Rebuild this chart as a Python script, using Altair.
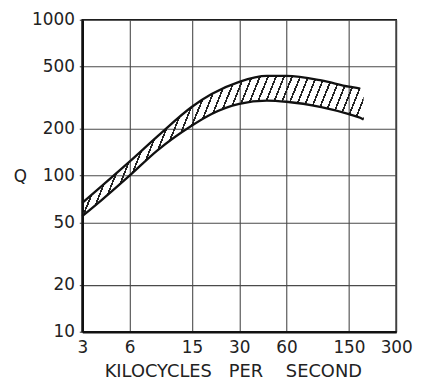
import math
import altair as alt
import pandas as pd

# Values (frequency in kc/s, Q)
freq_upper = [3, 4, 6, 9, 15, 20, 30, 45, 60, 100, 150, 177]
q_upper = [67, 86, 123, 178, 277, 334, 400, 436, 436, 408, 372, 362]
freq_lower = [3, 4, 6, 9, 15, 20, 30, 45, 60, 100, 150, 177, 186]
q_lower = [55, 70, 100, 145, 210, 249, 289, 303, 298, 275, 248, 235, 229]
q_hatch_end = 318  # top of the hatching beyond the end of the upper curve

x_ticks = [3, 6, 15, 30, 60, 150, 300]
y_ticks = [10, 20, 50, 100, 200, 500, 1000]

W_PLOT, H_PLOT = 317, 315
X_DOM, Y_DOM = [3, 300], [10, 1000]

upper_df = pd.DataFrame({"f": freq_upper, "q": q_upper})
lower_df = pd.DataFrame({"f": freq_lower, "q": q_lower})
band_df = pd.DataFrame({"f": freq_lower, "lo": q_lower, "hi": q_upper + [q_hatch_end]})

# --- hatch pattern built as a striped linear gradient over the band's bounding box
def px(v):
    return W_PLOT * math.log10(v / X_DOM[0]) / math.log10(X_DOM[1] / X_DOM[0])

def py(v):
    return H_PLOT * math.log10(Y_DOM[1] / v) / math.log10(Y_DOM[1] / Y_DOM[0])

bw = px(max(band_df.f)) - px(min(band_df.f))
bh = py(min(band_df.lo)) - py(max(band_df.hi))
theta = math.radians(68)
p, q = math.sin(theta) / bh, math.cos(theta) / bw
k = (p + q) / (p * p + q * q)
gx, gy = k * p, k * q
span = bw * math.sin(theta) + bh * math.cos(theta)
spacing = 7.5
n = max(1, int(round(span / spacing)))
frac = 1.7 / spacing
ink, clear = "#222222", "rgba(255,255,255,0)"
stops = []
for i in range(n):
    a = i / n
    b = (i + frac) / n
    c = (i + 1) / n
    stops += [
        alt.GradientStop(color=ink, offset=round(a, 6)),
        alt.GradientStop(color=ink, offset=round(b, 6)),
        alt.GradientStop(color=clear, offset=round(b, 6)),
        alt.GradientStop(color=clear, offset=round(c, 6)),
    ]
hatch = alt.LinearGradient(gradient="linear", stops=stops, x1=0, y1=0, x2=gx, y2=gy)

FONT = "DejaVu Sans"

x_axis = alt.Axis(
    values=x_ticks, format="d", labelOverlap=False, labelFlush=False, labelFont=FONT,
    labelFontSize=17, labelColor="#222", labelPadding=8, ticks=False, domainColor="#111",
    domainWidth=2.5, grid=True, gridColor="#4a4a4a", gridWidth=1.1, gridOpacity=1,
    title="KILOCYCLES\u00a0\u00a0\u00a0PER\u00a0\u00a0\u00a0\u00a0SECOND",
    titleFont=FONT, titleFontSize=18, titleFontWeight="normal", titleColor="#222",
    titleX=152, titleY=40, titleAlign="center", titleBaseline="middle",
)
y_axis = alt.Axis(
    values=y_ticks, format="d", labelOverlap=False, labelFlush=False, labelFont=FONT,
    labelFontSize=17, labelColor="#222", labelPadding=5, tickSize=3, tickColor="#333",
    domainColor="#111", domainWidth=2.5, grid=True, gridColor="#4a4a4a", gridWidth=1.1,
    gridOpacity=1, title="Q", titleAngle=0, titleFont=FONT, titleFontSize=17,
    titleFontWeight="normal", titleColor="#222", titleX=-63, titleY=158,
    titleAlign="center", titleBaseline="middle",
)
x_scale = alt.Scale(type="log", domain=X_DOM, nice=False)
y_scale = alt.Scale(type="log", domain=Y_DOM, nice=False)

band = alt.Chart(band_df).mark_area(fill=hatch, interpolate="monotone").encode(
    x=alt.X("f:Q", scale=x_scale, axis=x_axis),
    y=alt.Y("lo:Q", scale=y_scale, axis=y_axis),
    y2="hi:Q",
)
lower = alt.Chart(lower_df).mark_line(color="#111", strokeWidth=2.3, interpolate="monotone").encode(
    x=alt.X("f:Q", scale=x_scale, axis=x_axis),
    y=alt.Y("q:Q", scale=y_scale, axis=y_axis),
)
upper = alt.Chart(upper_df).mark_line(color="#111", strokeWidth=2.3, interpolate="monotone").encode(
    x=alt.X("f:Q", scale=x_scale, axis=x_axis),
    y=alt.Y("q:Q", scale=y_scale, axis=y_axis),
)

chart = (
    alt.layer(band, lower, upper)
    .properties(
        width=W_PLOT, height=H_PLOT,
        autosize=alt.AutoSizeParams(type="none"),
        padding={"left": 75, "top": 10, "right": 20, "bottom": 55},
        background="white",
    )
    .configure_view(stroke="#111", strokeWidth=1.6)
)

chart.save("out.html", embed_options={"renderer": "svg", "actions": False})
